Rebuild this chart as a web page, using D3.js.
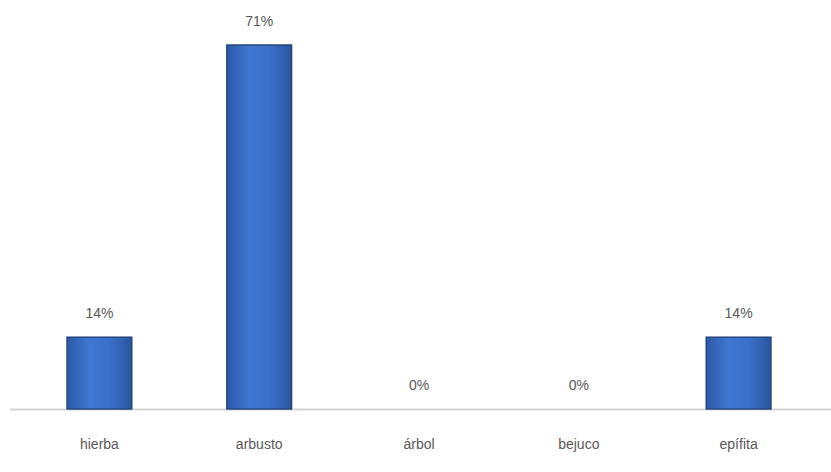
<!DOCTYPE html>
<html><head><meta charset="utf-8">
<script src="https://cdn.jsdelivr.net/npm/d3@7"></script>
<style>body{margin:0;background:#fff}svg{display:block}</style>
</head><body>
<script>
const categories = ["hierba", "arbusto", "árbol", "bejuco", "epífita"];
const values = [14, 71, 0, 0, 14];
const labels = ["14%", "71%", "0%", "0%", "14%"];

const W = 831, H = 472;
const svg = d3.select("body").append("svg").attr("width", W).attr("height", H);

const defs = svg.append("defs");
const g = defs.append("linearGradient").attr("id", "bg").attr("x1", "0").attr("x2", "1").attr("y1", "0").attr("y2", "0");
g.append("stop").attr("offset", "0%").attr("stop-color", "#2d5aa8");
g.append("stop").attr("offset", "35%").attr("stop-color", "#3f77d2");
g.append("stop").attr("offset", "65%").attr("stop-color", "#3b70c9");
g.append("stop").attr("offset", "100%").attr("stop-color", "#2b56a0");

const x = d3.scaleBand().domain(categories).range([19.5, 818.5]).paddingInner(0.595).paddingOuter(0.2975);
const y = d3.scaleLinear().domain([0, 71]).range([409, 45]);

svg.append("line").attr("x1", 10).attr("x2", 831).attr("y1", y(0) + 0.5).attr("y2", y(0) + 0.5)
  .attr("stroke", "#d4d4d4").attr("stroke-width", 2);

svg.selectAll("rect.bar").data(categories).join("rect").attr("class", "bar")
  .attr("x", d => x(d)).attr("width", x.bandwidth())
  .attr("y", (d, i) => y(values[i])).attr("height", (d, i) => y(0) - y(values[i]))
  .attr("fill", "url(#bg)").attr("stroke", "#25477f").attr("stroke-width", 1.5)
  .attr("display", (d, i) => values[i] > 0 ? null : "none");

svg.selectAll("text.val").data(categories).join("text").attr("class", "val")
  .attr("x", d => x(d) + x.bandwidth() / 2).attr("y", (d, i) => y(values[i]) - 19)
  .attr("text-anchor", "middle").attr("font-family", "Liberation Sans, Arial, sans-serif")
  .attr("font-size", 14).attr("fill", "#595959").text((d, i) => labels[i]);

const xa = svg.append("g").attr("transform", `translate(0,${y(0)})`)
  .call(d3.axisBottom(x).tickSize(0).tickPadding(30));
xa.select(".domain").remove();
xa.selectAll("text").attr("font-family", "Liberation Sans, Arial, sans-serif").attr("font-size", 14).attr("fill", "#595959");
</script>
</body></html>
